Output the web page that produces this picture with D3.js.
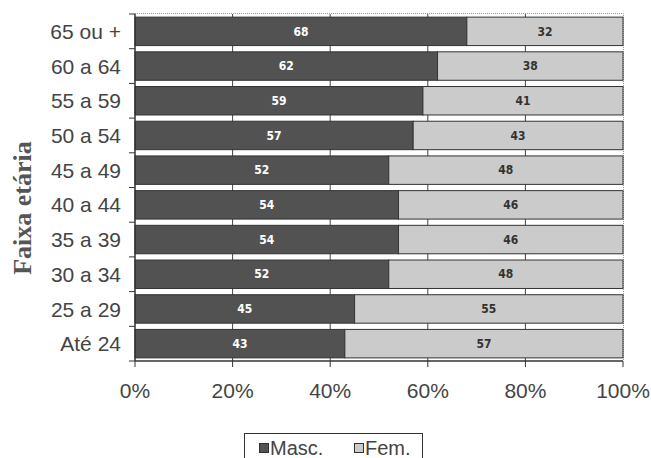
<!DOCTYPE html>
<html><head><meta charset="utf-8">
<script src="https://cdn.jsdelivr.net/npm/d3@7"></script>
<style>body{margin:0;background:#fff}</style>
</head><body>
<script>
const categories = ["65 ou +","60 a 64","55 a 59","50 a 54","45 a 49","40 a 44","35 a 39","30 a 34","25 a 29","Até 24"];
const masc = [68,62,59,57,52,54,54,52,45,43];
const fem  = [32,38,41,43,48,46,46,48,55,57];
const xTicks = [0,20,40,60,80,100];
const seriesNames = ["Masc.","Fem."];

const W=651,H=458;
const svg=d3.select("body").append("svg").attr("width",W).attr("height",H);
const x=d3.scaleLinear().domain([0,100]).range([135,623]);
const y=d3.scaleBand().domain(categories).range([14,361]).paddingInner(0.18).paddingOuter(0.09);
const colors={"Masc.":"#525252","Fem.":"#cbcbcb"};

// plot border (dotted top/right)
svg.append("path").attr("d",`M${x(0)},13.5H${x(100)+0.5}V361`).attr("fill","none").attr("stroke","#999").attr("stroke-dasharray","1,1");
// gridlines
svg.append("g").selectAll("line").data(xTicks.slice(1,-1)).join("line")
  .attr("x1",d=>x(d)).attr("x2",d=>x(d)).attr("y1",14).attr("y2",361).attr("stroke","#444").attr("stroke-width",1);

const data=categories.map((c,i)=>({c,m:masc[i],f:fem[i]}));
const g=svg.append("g");
data.forEach(d=>{
  g.append("rect").attr("x",x(0)).attr("y",y(d.c)).attr("width",x(d.m)-x(0)).attr("height",y.bandwidth())
   .attr("fill",colors["Masc."]).attr("stroke","#333").attr("stroke-width",1);
  g.append("rect").attr("x",x(d.m)).attr("y",y(d.c)).attr("width",x(d.m+d.f)-x(d.m)).attr("height",y.bandwidth())
   .attr("fill",colors["Fem."]).attr("stroke","#333").attr("stroke-width",1);
  g.append("text").attr("x",(x(0)+x(d.m))/2).attr("y",y(d.c)+y.bandwidth()/2).attr("dy","0.35em")
   .attr("text-anchor","middle").attr("fill","#fff").attr("font-family","DejaVu Sans Condensed, DejaVu Sans").attr("font-weight","bold").attr("font-size",12).text(d.m);
  g.append("text").attr("x",(x(d.m)+x(100))/2).attr("y",y(d.c)+y.bandwidth()/2).attr("dy","0.35em")
   .attr("text-anchor","middle").attr("fill","#333").attr("font-family","DejaVu Sans Condensed, DejaVu Sans").attr("font-weight","bold").attr("font-size",12).text(d.f);
});

// y axis
const yAxis=svg.append("g").attr("transform",`translate(${x(0)},0)`);
yAxis.append("line").attr("x1",0).attr("x2",0).attr("y1",14).attr("y2",361).attr("stroke","#333").attr("stroke-width",1.5);
const bounds=d3.range(categories.length+1).map(i=>14+i*(361-14)/categories.length);
yAxis.selectAll(".t").data(bounds).join("line").attr("x1",-6).attr("x2",0).attr("y1",d=>d).attr("y2",d=>d).attr("stroke","#333");
yAxis.selectAll("text").data(categories).join("text").attr("x",-14).attr("y",d=>y(d)+y.bandwidth()/2).attr("dy","0.36em")
  .attr("text-anchor","end").attr("font-family","Liberation Sans, Arial").attr("font-size",21).attr("fill","#444").text(d=>d);

// x axis
const xAxis=svg.append("g").attr("transform","translate(0,361)");
xAxis.append("line").attr("x1",x(0)).attr("x2",x(100)).attr("y1",0).attr("y2",0).attr("stroke","#333").attr("stroke-width",1.5);
xAxis.selectAll(".t").data(xTicks).join("line").attr("x1",d=>x(d)).attr("x2",d=>x(d)).attr("y1",0).attr("y2",6).attr("stroke","#333");
xAxis.selectAll("text").data(xTicks).join("text").attr("x",d=>x(d)).attr("y",37)
  .attr("text-anchor","middle").attr("font-family","Liberation Sans, Arial").attr("font-size",21).attr("fill","#444").text(d=>d+"%");

// y title
svg.append("text").attr("transform","translate(31,208) rotate(-90)").attr("text-anchor","middle")
  .attr("font-family","Liberation Serif, Times New Roman").attr("font-weight","bold").attr("font-size",26).attr("fill","#555").text("Faixa etária");

// legend
const lg=svg.append("g");
lg.append("rect").attr("x",244.5).attr("y",433.5).attr("width",178).attr("height",30).attr("fill","#fff").attr("stroke","#333");
const items=[{n:"Masc.",x:259},{n:"Fem.",x:354}];
items.forEach(it=>{
  lg.append("rect").attr("x",it.x+0.5).attr("y",443.5).attr("width",9).attr("height",9).attr("fill",colors[it.n]).attr("stroke","#333");
  lg.append("text").attr("x",it.x+11).attr("y",455).attr("font-family","Liberation Sans, Arial").attr("font-size",20).attr("fill","#444").text(it.n);
});
</script>
</body></html>
